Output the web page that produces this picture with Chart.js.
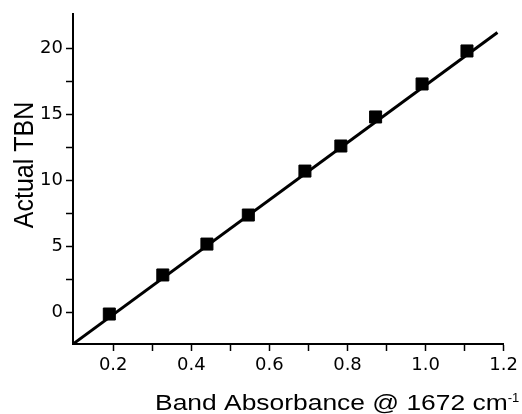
<!DOCTYPE html>
<html>
<head>
<meta charset="utf-8">
<script src="https://cdn.jsdelivr.net/npm/chart.js@4"></script>
<style>
    html, body { margin: 0; padding: 0; background: #fff; }
    #wrap { width: 522px; height: 414px; }
</style>
</head>
<body>
<div id="wrap"><canvas id="tbnChart" width="522" height="414"></canvas></div>
<script>
// Measured points (band absorbance vs actual TBN)
const absorbance = [0.19, 0.327, 0.44, 0.546, 0.691, 0.783, 0.872, 0.991, 1.106];
const actualTbn = [-0.13, 2.83, 5.17, 7.37, 10.7, 12.6, 14.8, 17.3, 19.8];

// Fitted line end points
const fitX = [0.097, 1.184];
const fitY = [-2.4, 21.2];

// Axis ticks (every tick, and the labelled ones)
const xTicks = [0.2, 0.3, 0.4, 0.5, 0.6, 0.7, 0.8, 0.9, 1.0, 1.1, 1.2];
const xLabels = [0.2, 0.4, 0.6, 0.8, 1.0, 1.2];
const yTicks = [0, 2.5, 5, 7.5, 10, 12.5, 15, 17.5, 20];
const yLabels = [0, 5, 10, 15, 20];

const FONT = "'DejaVu Sans', sans-serif";
const TITLE_FONT = "'Liberation Sans', Arial, sans-serif";

const hasValue = (list, v) => list.some(l => Math.abs(l - v) < 1e-6);

// Axis titles, drawn by hand so the superscript and placement match
const axisTitles = {
    id: 'axisTitles',
    afterDraw(chart) {
        const ctx = chart.ctx;
        const area = chart.chartArea;
        ctx.save();
        ctx.fillStyle = '#000';

        // x title, right aligned a little past the axis end
        ctx.font = '22px ' + TITLE_FONT;
        ctx.textAlign = 'right';
        ctx.textBaseline = 'alphabetic';
        ctx.save();
        ctx.translate(area.right + 4, 410);
        ctx.scale(1.2, 1);
        ctx.fillText('Band Absorbance @ 1672 cm', 0, 0);
        ctx.restore();
        ctx.font = '13px ' + TITLE_FONT;
        ctx.textAlign = 'left';
        ctx.fillText('-1', area.right + 4, 402);

        // y title (glyphs a bit wider, like the source)
        ctx.font = '25px ' + TITLE_FONT;
        ctx.textAlign = 'center';
        ctx.translate(33, 165);
        ctx.rotate(-Math.PI / 2);
        ctx.scale(1, 1.08);
        ctx.fillText('Actual TBN', 0, 0);
        ctx.restore();
    }
};

new Chart(document.getElementById('tbnChart'), {
    type: 'scatter',
    data: {
        datasets: [
            {
                label: 'Fit',
                type: 'line',
                data: fitX.map((x, i) => ({ x: x, y: fitY[i] })),
                borderColor: '#000',
                borderWidth: 3,
                pointRadius: 0,
                fill: false
            },
            {
                label: 'TBN',
                data: absorbance.map((x, i) => ({ x: x, y: actualTbn[i] })),
                pointStyle: 'rect',
                pointRadius: 8.5,
                pointBackgroundColor: '#000',
                pointBorderColor: '#000',
                pointBorderWidth: 1
            }
        ]
    },
    options: {
        responsive: false,
        animation: false,
        layout: { padding: { top: 14, right: 15, left: 0, bottom: 0 } },
        plugins: {
            legend: { display: false },
            tooltip: { enabled: false }
        },
        scales: {
            x: {
                type: 'linear',
                min: 0.097,
                max: 1.2,
                afterFit: (scale) => { scale.height = 70; },
                afterBuildTicks: (scale) => { scale.ticks = xTicks.map(v => ({ value: v })); },
                border: { display: true, color: '#000', width: 2 },
                grid: { drawOnChartArea: false, drawTicks: true, tickLength: 7, tickColor: '#000', tickWidth: 1.5 },
                ticks: {
                    color: '#000',
                    font: { family: FONT, size: 18 },
                    padding: 4,
                    maxRotation: 0,
                    autoSkip: false,
                    callback: (v) => hasValue(xLabels, v) ? v.toFixed(1) : ''
                }
            },
            y: {
                min: -2.4,
                max: 22.6,
                afterFit: (scale) => { scale.width = 73; },
                afterBuildTicks: (scale) => { scale.ticks = yTicks.map(v => ({ value: v })); },
                border: { display: true, color: '#000', width: 2 },
                grid: { drawOnChartArea: false, drawTicks: true, tickLength: 7, tickColor: '#000', tickWidth: 1.5 },
                ticks: {
                    color: '#000',
                    font: { family: FONT, size: 18 },
                    padding: 3,
                    autoSkip: false,
                    callback: (v) => hasValue(yLabels, v) ? String(v) : ''
                }
            }
        }
    },
    plugins: [axisTitles]
});
</script>
</body>
</html>
